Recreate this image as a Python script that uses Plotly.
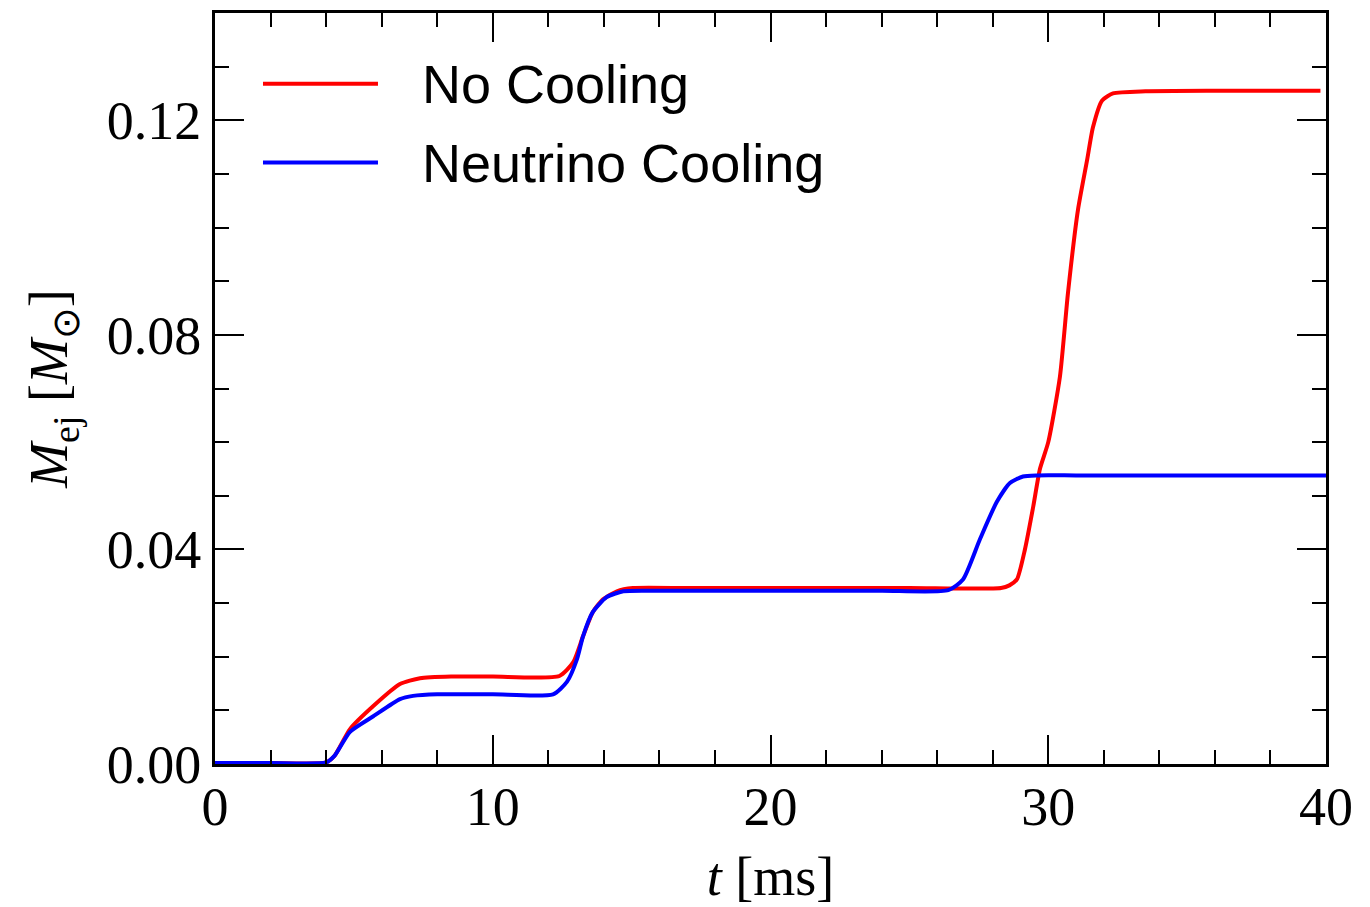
import plotly.graph_objects as go

# No Cooling (red)
t_red = [0, 2, 4.0, 4.3, 4.86, 5.7, 6.66, 7.38, 8.5, 10, 12.4, 12.9, 13.25, 13.6, 13.97,
         14.47, 15.05, 17, 20, 25, 28.3, 28.6, 28.87, 29.16, 29.46, 29.7, 30.0, 30.42,
         30.71, 31.07, 31.4, 31.61, 31.94, 32.33, 33.5, 36, 39.8]
m_red = [0.0002, 0.0002, 0.0003, 0.0015, 0.0065, 0.0108, 0.0149, 0.0160, 0.0163, 0.0163,
         0.0164, 0.0190, 0.0238, 0.0283, 0.0307, 0.0322, 0.0328, 0.0328, 0.0328, 0.0328,
         0.0328, 0.0333, 0.0344, 0.0400, 0.0480, 0.0550, 0.0600, 0.0722, 0.0878, 0.1033,
         0.1126, 0.1187, 0.1237, 0.1250, 0.1254, 0.1255, 0.1255]

# Neutrino Cooling (blue)
t_blue = [0, 2, 4.0, 4.3, 4.86, 5.7, 6.66, 7.13, 8, 10, 12.17, 12.67, 13.03, 13.25, 13.6,
          14.1, 14.7, 16, 20, 24, 26.4, 26.93, 27.54, 28.15, 28.62, 29.09, 29.6, 31, 35, 40]
m_blue = [0.0002, 0.0002, 0.0003, 0.0015, 0.0060, 0.0089, 0.0121, 0.0127, 0.0130, 0.0130,
          0.0130, 0.0153, 0.0195, 0.0238, 0.0283, 0.0311, 0.0322, 0.0323, 0.0323, 0.0323,
          0.0324, 0.0344, 0.0419, 0.0489, 0.0524, 0.0536, 0.0538, 0.0538, 0.0538, 0.0538]

labels = ["No Cooling", "Neutrino Cooling"]
colors = ["#ff0000", "#0000ff"]

x_ticks = [0, 10, 20, 30, 40]
y_ticks = [0.00, 0.04, 0.08, 0.12]
y_ticklabels = ["0.00", "0.04", "0.08", "0.12"]

serif = "Liberation Serif, Times New Roman, serif"
sans = "Liberation Sans, Arial, sans-serif"

fig = go.Figure()
fig.add_trace(go.Scatter(x=t_red, y=m_red, mode="lines", name=labels[0],
                         line=dict(color=colors[0], width=4, shape="spline", smoothing=0.6),
                         showlegend=False))
fig.add_trace(go.Scatter(x=t_blue, y=m_blue, mode="lines", name=labels[1],
                         line=dict(color=colors[1], width=4, shape="spline", smoothing=0.6),
                         showlegend=False))

# custom legend (matplotlib style: long line samples)
leg_y = [0.9057, 0.8008]
for lab, col, yy in zip(labels, colors, leg_y):
    fig.add_shape(type="line", xref="paper", yref="paper", x0=0.0432, x1=0.1467,
                  y0=yy, y1=yy, line=dict(color=col, width=4))
    fig.add_annotation(xref="paper", yref="paper", x=0.1845, y=yy, text=lab,
                       showarrow=False, xanchor="left", yanchor="middle",
                       font=dict(family=sans, size=54, color="black"))

axis_common = dict(
    showline=True, linecolor="black", linewidth=3, mirror="ticks",
    ticks="inside", ticklen=29, tickwidth=2, tickcolor="black",
    showgrid=False, zeroline=False,
    tickfont=dict(family=serif, size=54, color="black"),
)

fig.update_xaxes(range=[0, 40], tickvals=x_ticks, ticktext=[str(v) for v in x_ticks],
                 minor=dict(dtick=2, ticks="inside", ticklen=14, tickwidth=2,
                            tickcolor="black", showgrid=False),
                 title=dict(text="<i>t</i> [ms]", font=dict(family=serif, size=54, color="black"),
                            standoff=22),
                 ticklabelstandoff=-7,
                 **axis_common)
fig.update_yaxes(range=[0, 0.14], tickvals=y_ticks, ticktext=y_ticklabels,
                 minor=dict(dtick=0.01, ticks="inside", ticklen=14, tickwidth=2,
                            tickcolor="black", showgrid=False),
                 title=dict(text="<i>M</i><sub>ej</sub> [<i>M</i><sub>⊙</sub>]",
                            font=dict(family=serif, size=54, color="black"), standoff=22),
                 ticklabelstandoff=0,
                 **axis_common)

fig.update_layout(
    width=1370, height=907,
    margin=dict(l=215, r=44, t=10, b=136),
    plot_bgcolor="white", paper_bgcolor="white",
    showlegend=False,
)

fig.write_html("out.html")
